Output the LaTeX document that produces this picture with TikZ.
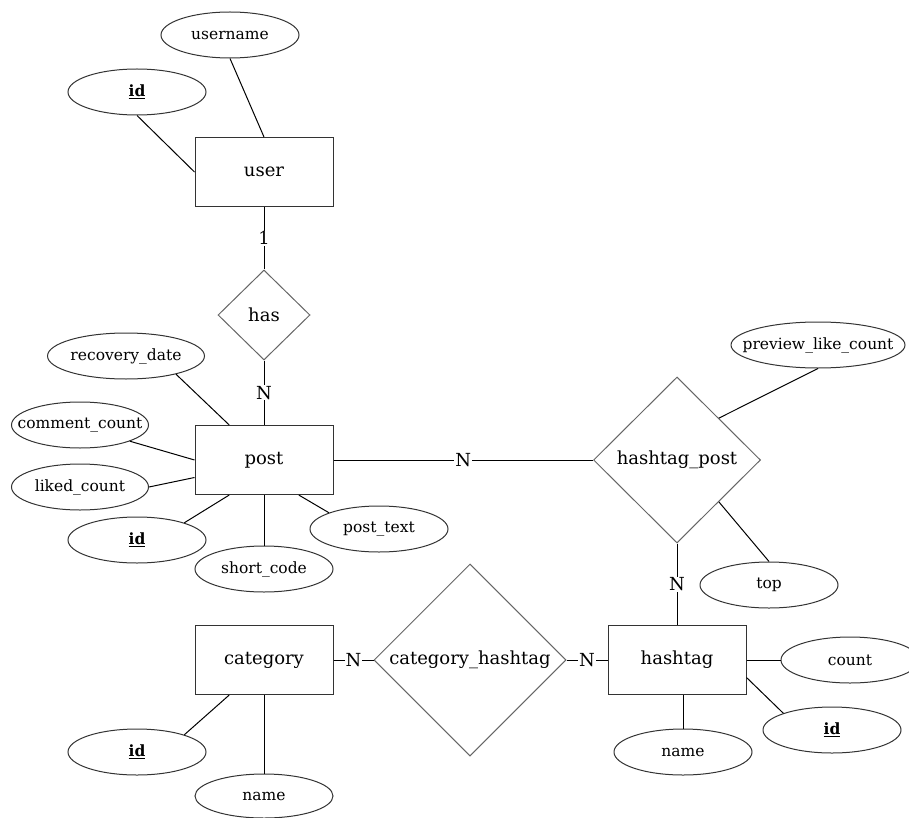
\documentclass[tikz,border=0pt]{standalone}
\usepackage{fontspec}
\setmainfont{DejaVu Serif}
\usetikzlibrary{shapes.geometric, calc}

\tikzset{
  entity/.style={draw=black!80, rectangle, minimum width=138pt, minimum height=69pt, inner sep=0pt, font=\fontsize{18}{20}\selectfont},
  relation/.style={draw=black!60, diamond, inner sep=0pt, font=\fontsize{18}{20}\selectfont},
  attr/.style={draw=black!80, ellipse, minimum width=138pt, minimum height=46pt, inner sep=0pt, font=\fontsize{15.5}{18}\selectfont},
  card/.style={fill=white, inner sep=1pt, font=\fontsize{18}{20}\selectfont},
}
\newcommand{\keyattr}[1]{\textbf{\underline{#1}}}
\newcommand{\attrlabel}[1]{\makebox[0pt]{#1}}

\begin{document}
\begin{tikzpicture}[x=1pt, y=-1pt, line width=1pt]
        \useasboundingbox (0,0) rectangle (909,818);
        % entities
        \node[entity] (user) at (264,172) {user};
        \node[entity] (post) at (264,460) {post};
        \node[entity] (category) at (264,660) {category};
        \node[entity] (hashtag) at (677,660) {hashtag};
        % relations
        \node[relation, minimum width=92pt, minimum height=90pt] (has) at (264,315) {has};
        \node[relation, minimum width=167pt, minimum height=166pt] (hashpost) at (677,460) {hashtag\_post};
        \node[relation, minimum width=192pt, minimum height=192pt] (cathash) at (470,660) {category\_hashtag};
        % attributes of user
        \node[attr] (uname) at (230,35) {username};
        \node[attr] (uid) at (137,92) {\keyattr{id}};
        % attributes of post
        \node[attr] (precov) at (126,356) {recovery\_date};
        \node[attr, minimum width=137pt] (pcomment) at (80,425) {\attrlabel{comment\_count}};
        \node[attr, minimum width=137pt] (pliked) at (80,487) {liked\_count};
        \node[attr] (pid) at (137,540) {\keyattr{id}};
        \node[attr] (pcode) at (264,569) {short\_code};
        \node[attr] (ptext) at (379,529) {post\_text};
        % attributes of hashtag_post
        \node[attr, minimum width=174pt] (hpreview) at (818,345) {\attrlabel{preview\_like\_count}};
        \node[attr] (htop) at (769,585) {top};
        % attributes of hashtag
        \node[attr] (hcount) at (850,660) {count};
        \node[attr] (hid) at (832,730) {\keyattr{id}};
        \node[attr] (hname) at (683,752) {name};
        % attributes of category
        \node[attr] (cid) at (137,752) {\keyattr{id}};
        \node[attr, minimum height=44pt] (cname) at (264,796) {name};

        \draw (uid.south) -- (user.west);
        \draw (uname.south) -- (user.north);
        \draw (user) -- node[card] {1} (has);
        \draw (has) -- node[card] {N} (post);
        \draw (precov.-20) -- ($(post.north west)!0.5!(post.north)$);
        \draw (pcomment.-18) -- (post.west);
        \draw (pliked.east) -- ($(post.west)!0.5!(post.south west)$);
        \draw (pid.20) -- ($(post.south west)!0.5!(post.south)$);
        \draw (pcode.north) -- (post.south);
        \draw (ptext.162) -- ($(post.south)!0.5!(post.south east)$);
        \draw (post.east) -- node[card] {N} (hashpost.west);
        \draw (hpreview.south) -- (hashpost.45);
        \draw (htop.north) -- (hashpost.-45);
        \draw (hashpost.south) -- node[card] {N} (hashtag.north);
        \draw (hashtag.east) -- (hcount.west);
        \draw ($(hashtag.east)!0.5!(hashtag.south east)$) -- (hid.161);
        \draw (hname.north) -- (hname.north |- hashtag.south);
        \draw (category.east) -- node[card] {N} (cathash.west);
        \draw (cathash.east) -- node[card] {N} (hashtag.west);
        \draw (cid.20) -- ($(category.south west)!0.5!(category.south)$);
        \draw (cname.north) -- (category.south);
\end{tikzpicture}
\end{document}
